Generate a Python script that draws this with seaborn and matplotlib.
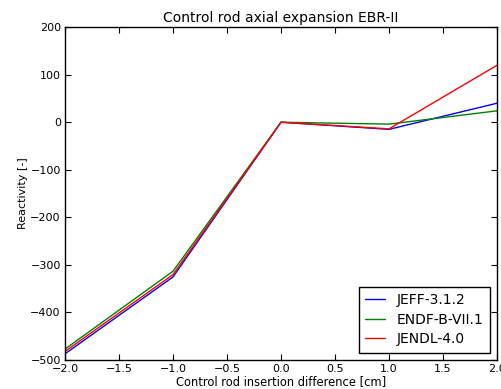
import numpy as np
import pandas as pd
import seaborn as sns
import matplotlib.pyplot as plt

# insertion difference [cm] and reactivity per library
insertion = [-2.0, -1.0, 0.0, 1.0, 2.0]
jeff = [-488, -326, 0, -15, 40]
endf = [-478, -314, 0, -4, 24]
jendl = [-483, -321, 0, -14, 120]
libraries = ['JEFF-3.1.2', 'ENDF-B-VII.1', 'JENDL-4.0']

df = pd.DataFrame({
    'x': insertion * 3,
    'y': jeff + endf + jendl,
    'lib': np.repeat(libraries, len(insertion)),
})

sns.set_style('white')
plt.rcParams['font.family'] = ['DejaVu Sans']
plt.rcParams['xtick.direction'] = 'in'
plt.rcParams['ytick.direction'] = 'in'
plt.rcParams['text.color'] = 'black'
plt.rcParams['axes.labelcolor'] = 'black'
plt.rcParams['xtick.color'] = 'black'
plt.rcParams['ytick.color'] = 'black'

fig = plt.figure(figsize=(5.02, 3.89), dpi=100)
ax = fig.add_axes([0.1295, 0.0758, 0.8605, 0.854])

sns.lineplot(data=df, x='x', y='y', hue='lib', palette=['#0000ff', '#008000', '#ff0000'],
             linewidth=1, ax=ax)

ax.set_xlim(-2, 2)
ax.set_ylim(-500, 200)
ax.set_xticks(np.arange(-2, 2.01, 0.5))
ax.set_yticks(np.arange(-500, 201, 100))
ax.tick_params(axis='both', labelsize=8, length=4, width=0.8, top=True, right=True,
               bottom=True, left=True, pad=3)
for s in ax.spines.values():
    s.set_color('black')
    s.set_linewidth(1)

ax.set_title('Control rod axial expansion EBR-II', fontsize=10, pad=4)
ax.set_xlabel('Control rod insertion difference [cm]', fontsize=8.3, labelpad=1)
ax.set_ylabel('Reactivity [-]', fontsize=8, labelpad=2)

leg = ax.legend(loc='lower right', fontsize=10, fancybox=False, framealpha=1,
                edgecolor='black', borderaxespad=0.5, handlelength=1.4,
                handletextpad=0.9, labelspacing=0.4, borderpad=0.45)
leg.get_frame().set_linewidth(1)

fig.savefig('out.png', dpi=100)
